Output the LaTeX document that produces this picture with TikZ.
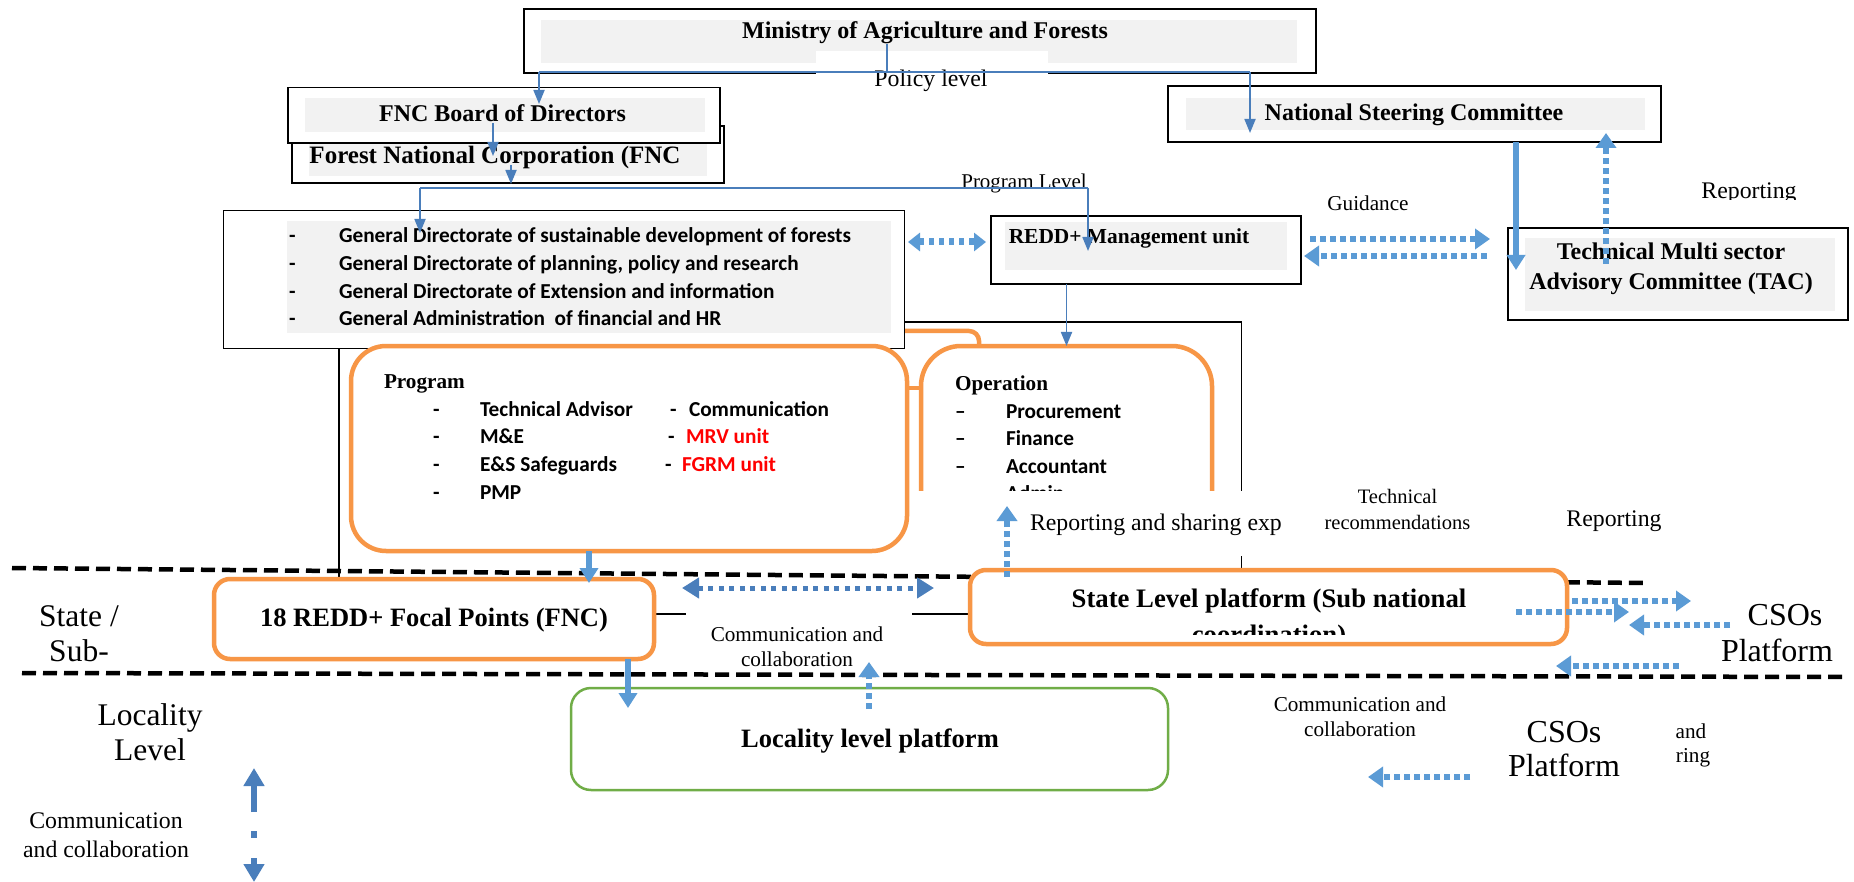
\documentclass[tikz,border=0pt]{standalone}
\usepackage{fontspec}
\setmainfont{Liberation Serif}
\newfontfamily\calibri{Carlito}
\usetikzlibrary{arrows.meta}
\definecolor{thinblue}{HTML}{4A7EBB}
\definecolor{lblue}{HTML}{5B9BD5}
\definecolor{orng}{HTML}{F79646}
\definecolor{grn}{HTML}{70AD47}
\definecolor{grayfill}{HTML}{F2F2F2}
\definecolor{redtxt}{HTML}{FF0000}
\newcommand{\fz}[2]{\fontsize{#1}{#2}\selectfont}
\begin{document}
\begin{tikzpicture}[x=1pt,y=-1pt,
  every node/.style={inner sep=0pt,outer sep=0pt},
  blackbox/.style={draw=black,line width=1.4pt,fill=white},
  graybg/.style={fill=grayfill},
  cover/.style={fill=white},
  ttl/.style={font=\fz{24}{29.6}\bfseries,align=center},
  ttlbig/.style={font=\fz{26.5}{32}\bfseries,align=center},
  subttl/.style={font=\fz{21.2}{26}\bfseries},
  sans/.style={font=\calibri\bfseries\fz{21.3}{26},text height=15pt,text depth=4.5pt,yshift=-2pt},
  lbl/.style={font=\fz{21.2}{25},align=center},
  lblm/.style={font=\fz{23.8}{28},align=center},
  lblbig/.style={font=\fz{31.5}{35},align=center},
  thinconn/.style={draw=thinblue,line width=1.8pt},
  thinarrow/.style={thinconn,-{Triangle[length=14pt,width=11pt]}},
  thickarrow/.style={draw=lblue,line width=5.5pt,-{Triangle[length=15pt,width=18pt]}},
  dotarrow/.style={draw=lblue,line width=5.5pt,dash pattern=on 6pt off 4pt,-{Triangle[length=15pt,width=20pt]}},
  darkdot/.style={draw=thinblue,line width=5pt,dash pattern=on 5pt off 5.5pt,{Triangle[length=17pt,width=20pt]}-{Triangle[length=17pt,width=20pt]}},
  fatdot/.style={draw=lblue,line width=7pt,dash pattern=on 5pt off 5pt,{Triangle[length=12pt,width=18pt]}-{Triangle[length=12pt,width=18pt]}},
  darkarrow/.style={draw=thinblue,line width=6pt,-{Triangle[length=18pt,width=20pt]}},
  orangebox/.style={draw=orng,line width=4.5pt,fill=white},
  orangeconn/.style={draw=orng,line width=4.5pt},
  levelline/.style={draw=black,line width=4.5pt,dash pattern=on 14pt off 7pt}
]
\useasboundingbox (0,0) rectangle (1854,882);
\fill[white] (0,0) rectangle (1854,882);

% container rectangle (mostly hidden)
\node[draw=black,line width=1.2pt,minimum width=902.5pt,minimum height=292pt] (container) at (790.25,468) {};

% orange connector on top of Program / Operation
\coordinate (prTopJ) at (860,346);
\coordinate (opTopJ) at (979,348);
\draw[orangeconn,rounded corners=10pt] (prTopJ) -- ++(0,-15) -| (opTopJ);

% white background of the middle label
\node[cover,minimum width=226pt,minimum height=68pt] (ccCover) at (799,633) {};

% level separators
\coordinate (lvA1) at (12,568);
\coordinate (lvA2) at (1648,583);
\coordinate (lvB1) at (22,673);
\coordinate (lvB2) at (1845,677);
\draw[levelline] (lvA1) -- (lvA2);
\draw[levelline] (lvB1) -- (lvB2);

% Ministry
\node[blackbox,minimum width=792pt,minimum height=64pt] (minbox) at (920,41) {};
\node[graybg,minimum width=756pt,minimum height=43pt] (mingray) at (919,41.5) {};
\node[ttl] (mintext) at (925,33) {Ministry of Agriculture and Forests};
\node[cover,minimum width=232pt,minimum height=25pt] (polpatch) at (932,63.5) {};
\node[lblm] (poltext) at (931,81) {Policy level};

% FNC Corporation and Board
\node[blackbox,minimum width=432pt,minimum height=57pt] (fncc) at (508,154.5) {};
\node[graybg,minimum width=398pt,minimum height=39pt] (fnccgray) at (508,156.5) {};
\node[font=\fz{25}{30}\bfseries] (fncctext) at (495,157) {Forest National Corporation (FNC};
\node[blackbox,minimum width=432pt,minimum height=55.5pt] (fncb) at (504,115.25) {};
\node[graybg,minimum width=400pt,minimum height=34pt] (fncbgray) at (505,115) {};
\node[ttl] (fncbtext) at (502.5,113.5) {FNC Board of Directors};

% National Steering Committee
\node[blackbox,minimum width=493pt,minimum height=56pt] (nsc) at (1414.5,114) {};
\node[graybg,minimum width=459pt,minimum height=32pt] (nscgray) at (1415.5,114) {};
\node[ttl] (nsctext) at (1414,114.7) {National Steering Committee};

% TAC
\node[blackbox,minimum width=340pt,minimum height=92pt] (tac) at (1678,274) {};
\node[graybg,minimum width=310pt,minimum height=73pt] (tacgray) at (1680,274.5) {};
\node[ttl] (tactext) at (1671,269) {Technical Multi sector\\Advisory Committee (TAC)};

% REDD+ Management unit
\node[blackbox,minimum width=310pt,minimum height=68pt] (redd) at (1146,250) {};
\node[graybg,minimum width=282pt,minimum height=48pt] (reddgray) at (1146,246) {};
\node[font=\fz{21.4}{26}\bfseries] (reddtext) at (1129,238) {REDD+ Management unit};

% General Directorates
\node[blackbox,minimum width=681pt,minimum height=138pt] (gendir) at (564,279.5) {};
\node[graybg,minimum width=604pt,minimum height=112pt] (gendirgray) at (589,277) {};
\node[sans,anchor=west] (gdd1) at (289,235) {-};
\node[sans,anchor=west] (gd1) at (339,235) {General Directorate of sustainable development of forests};
\node[sans,anchor=west] (gdd2) at (289,263) {-};
\node[sans,anchor=west] (gd2) at (339,263) {General Directorate of planning, policy and research};
\node[sans,anchor=west] (gdd3) at (289,291) {-};
\node[sans,anchor=west] (gd3) at (339,291) {General Directorate of Extension and information};
\node[sans,anchor=west] (gdd4) at (289,318) {-};
\node[sans,anchor=west] (gd4) at (339,318) {General Administration\ \ of financial and HR};

% Program and Operation
\node[orangebox,rounded corners=35pt,minimum width=556pt,minimum height=205pt] (prog) at (629,448.5) {};
\node[orangebox,rounded corners=40pt,minimum width=291pt,minimum height=205pt] (oper) at (1066.5,448.5) {};
\coordinate (ylink) at (0,388);
\draw[orangeconn] (prog.east |- ylink) -- (oper.west |- ylink);

\node[subttl,anchor=west] (progtitle) at (384,384) {Program};
\node[sans,anchor=west] (pd1) at (433,409) {-};
\node[sans,anchor=west] (p1) at (480,409) {Technical Advisor};
\node[sans,anchor=west] (pd2) at (433,436) {-};
\node[sans,anchor=west] (p2) at (480,436) {M\&E};
\node[sans,anchor=west] (pd3) at (433,464) {-};
\node[sans,anchor=west] (p3) at (480,464) {E\&S Safeguards};
\node[sans,anchor=west] (pd4) at (433,492) {-};
\node[sans,anchor=west] (p4) at (480,492) {PMP};
\node[sans,anchor=west] (qd1) at (670,409) {-};
\node[sans,anchor=west] (q1) at (689,409) {Communication};
\node[sans,anchor=west] (qd2) at (668,436) {-};
\node[sans,anchor=west,text=redtxt] (q2) at (686,436) {MRV unit};
\node[sans,anchor=west] (qd3) at (665,464) {-};
\node[sans,anchor=west,text=redtxt] (q3) at (682,464) {FGRM unit};

\node[subttl,anchor=west] (opertitle) at (955,385) {Operation};
\node[sans,anchor=west] (od1) at (955,411.5) {\textendash};
\node[sans,anchor=west] (o1) at (1006,411.5) {Procurement};
\node[sans,anchor=west] (od2) at (955,438.7) {\textendash};
\node[sans,anchor=west] (o2) at (1006,438.7) {Finance};
\node[sans,anchor=west] (od3) at (955,466) {\textendash};
\node[sans,anchor=west] (o3) at (1006,466) {Accountant};
\node[sans,anchor=west] (od4) at (955,493) {\textendash};
\node[sans,anchor=west] (o4) at (1006,493) {Admin};

% cover with clipped label
\node[cover,minimum width=365pt,minimum height=65pt] (rsCover) at (1098.5,523.5) {};
\begin{scope}
\clip (rsCover.south west) rectangle (rsCover.north east);
\node[lblm,anchor=west] (rstext) at (1030,525) {Reporting and sharing exp};
\end{scope}

% state level boxes
\node[orangebox,rounded corners=16pt,minimum width=440pt,minimum height=80pt] (focal) at (434,619) {};
\node[font=\fz{26.5}{32}\bfseries] (focaltext) at (434,620) {18 REDD+ Focal Points (FNC)};
\node[orangebox,rounded corners=16pt,minimum width=597pt,minimum height=74pt] (state) at (1268.5,607) {};
\node[font=\fz{26.7}{32}\bfseries] (statetext) at (1269,601) {State Level platform (Sub national};
\begin{scope}
\clip (975,575) rectangle (1562,634);
\node[font=\fz{26.7}{32}\bfseries,anchor=base] (statetext2) at (1269,643) {coordination)};
\end{scope}

% locality
\node[draw=grn,line width=2.5pt,fill=white,rounded corners=20pt,minimum width=597pt,minimum height=102pt] (loc) at (869.5,739) {};
\node[ttlbig] (loctext) at (870,741) {Locality level platform};

% labels
\node[font=\fz{21}{26}] (proglevel) at (1024,183) {Program Level};
\node[lbl] (guid) at (1368,203) {Guidance};
\begin{scope}
\clip (1680,170) rectangle (1820,199.5);
\node[lblm,anchor=base] (rep1) at (1749,199) {Reporting};
\end{scope}
\node[font=\fz{20.5}{26},align=center] (techrec) at (1397.5,509.6) {Technical\\recommendations};
\node[lblm] (rep2) at (1614,521) {Reporting};
\node[lbl] (ccmid) at (797,646.5) {Communication and\\collaboration};
\node[lblbig] (statelbl) at (79,633.5) {State /\\Sub-};
\node[lblbig] (loclbl) at (150,732.5) {Locality\\Level};
\node[lblm,font=\fz{23.8}{28.5}] (ccleft) at (106,835) {Communication\\and collaboration};
\node[lblbig,font=\fz{32}{35}] (csos1a) at (1785,615) {CSOs};
\node[lblbig,font=\fz{32}{35}] (csos1b) at (1777,650) {Platform};
\node[lbl] (ccright) at (1360,717) {Communication and\\collaboration};
\node[lblbig,font=\fz{32}{34}] (csos2) at (1564,749) {CSOs\\Platform};
\node[lbl] (andtxt) at (1691,731) {and};
\node[lbl] (ringtxt) at (1693,758) {ring};

% ---------- connectors ----------
\coordinate (polL) at (539,72);
\coordinate (polR) at (1250,72);
\coordinate (polTop) at (887,44);
\coordinate (fncbTip) at (539,104);
\coordinate (nscTip) at (1250,133);
\draw[thinconn] (polTop) -- (polTop |- polL);
\draw[thinconn] (polL) -- (polR);
\draw[thinarrow] (polL) -- (fncbTip);
\draw[thinarrow] (polR) -- (nscTip);

\coordinate (bA1) at (493,123);
\coordinate (bA2) at (493,156);
\coordinate (bB1) at (511,165);
\coordinate (bB2) at (511,184);
\draw[thinarrow] (bA1) -- (bA2);
\draw[thinarrow] (bB1) -- (bB2);
\coordinate (pgL) at (420,188);
\coordinate (pgR) at (1088,188);
\coordinate (gdTip) at (420,233);
\coordinate (rdTip) at (1088,251);
\draw[thinconn] (pgL) -- (pgR);
\draw[thinarrow] (pgL) -- (gdTip);
\draw[thinarrow] (pgR) -- (rdTip);
\draw[thinarrow] (redd.south -| oper.north) -- (oper.north);

\coordinate (gdR) at (908,242);
\coordinate (rdL) at (986,242);
\draw[fatdot] (gdR) -- (rdL);

\coordinate (gu1) at (1310,239);
\coordinate (gu2) at (1490,239);
\coordinate (gu3) at (1487,256);
\coordinate (gu4) at (1304,256);
\draw[dotarrow] (gu1) -- (gu2);
\draw[dotarrow] (gu3) -- (gu4);

\coordinate (nscOut) at (1516,142);
\coordinate (tacIn) at (1516,270);
\draw[thickarrow] (nscOut) -- (tacIn);
\coordinate (tacOut) at (1606,264);
\coordinate (nscIn) at (1606,133);
\draw[dotarrow] (tacOut) -- (nscIn);

\coordinate (prOut) at (589,551);
\coordinate (focIn) at (589,583);
\draw[thickarrow] (prOut) -- (focIn);
\coordinate (focOut) at (628,659);
\coordinate (locIn) at (628,708);
\draw[thickarrow] (focOut) -- (locIn);

\coordinate (ccL) at (682,588);
\coordinate (ccR) at (934,588);
\draw[darkdot] (ccL) -- (ccR);
\coordinate (locOut) at (869,709);
\coordinate (locUp) at (869,662);
\draw[dotarrow] (locOut) -- (locUp);

\coordinate (stOut) at (1007,577);
\coordinate (stUp) at (1007,506);
\draw[dotarrow] (stOut) -- (stUp);

\coordinate (ra1) at (1572,601);
\coordinate (ra2) at (1691,601);
\coordinate (rb1) at (1516,612);
\coordinate (rb2) at (1629,612);
\coordinate (rc1) at (1730,625);
\coordinate (rc2) at (1629,625);
\coordinate (rd1) at (1679,666);
\coordinate (rd2) at (1556,666);
\coordinate (re1) at (1470,777);
\coordinate (re2) at (1368,777);
\draw[dotarrow] (ra1) -- (ra2);
\draw[dotarrow] (rb1) -- (rb2);
\draw[dotarrow] (rc1) -- (rc2);
\draw[dotarrow] (rd1) -- (rd2);
\draw[dotarrow] (re1) -- (re2);

\coordinate (vl1) at (254,812);
\coordinate (vl2) at (254,768);
\coordinate (vl3) at (254,858);
\coordinate (vl4) at (254,882);
\draw[darkarrow] (vl1) -- (vl2);
\fill[thinblue] (251,831) rectangle (257,838);
\draw[darkarrow] (vl3) -- (vl4);
\end{tikzpicture}
\end{document}
